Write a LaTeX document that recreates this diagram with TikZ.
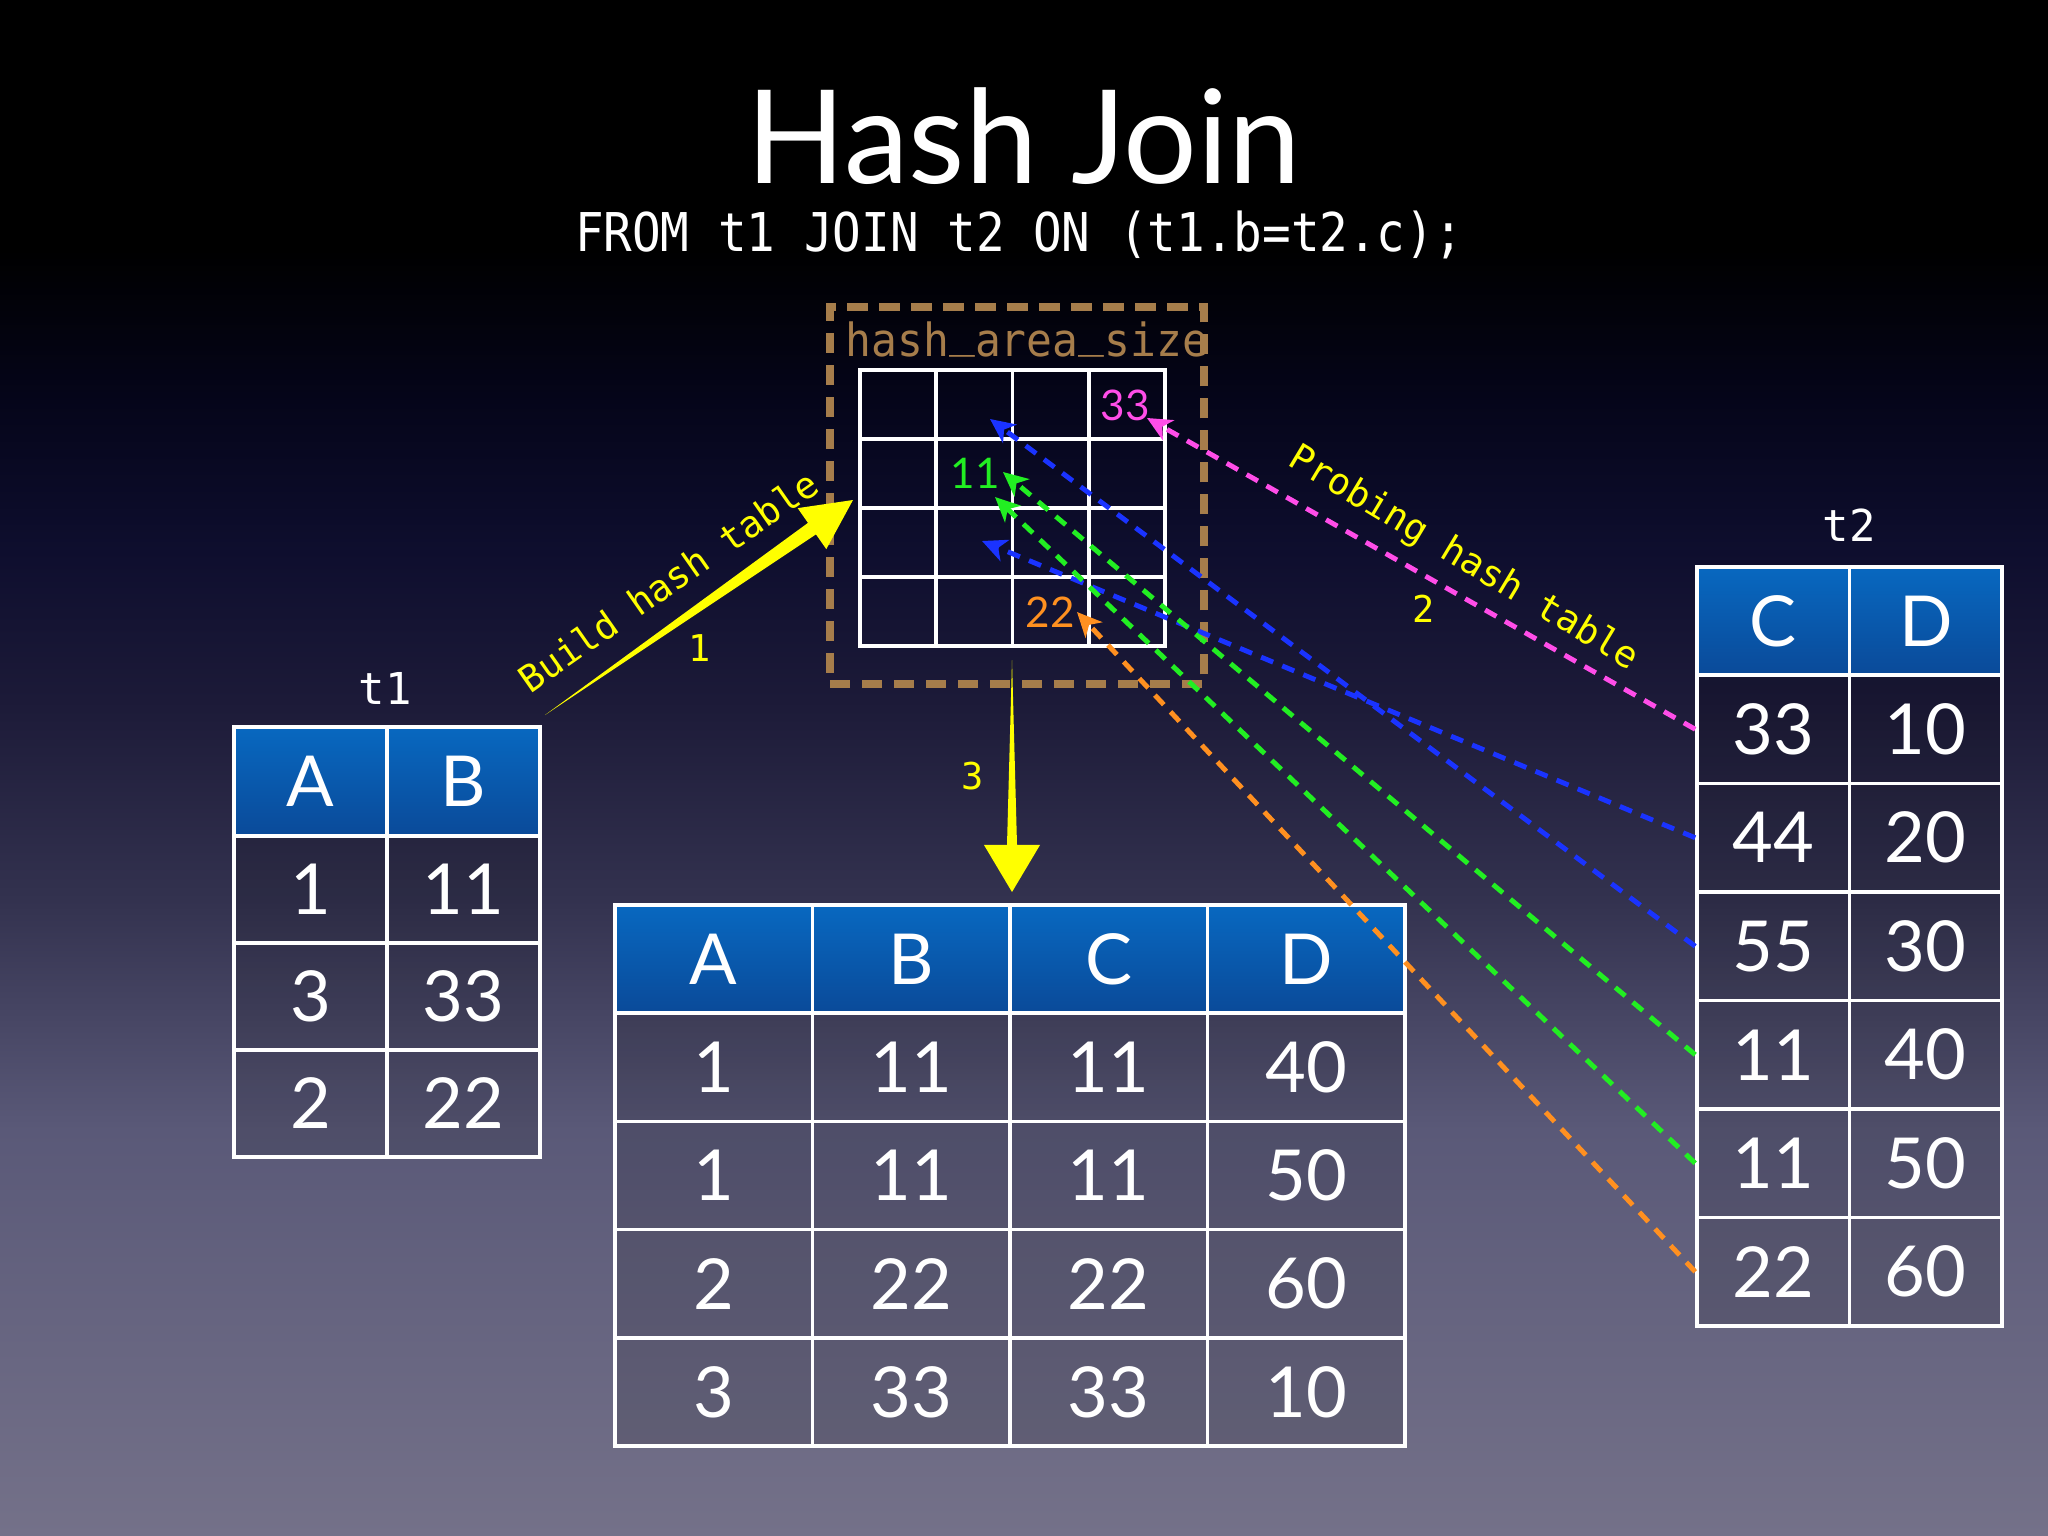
\documentclass[tikz,border=0pt]{standalone}
\usepackage{fontspec}
\setmainfont{Lato}
\newfontfamily\subfont[FakeStretch=0.89]{DejaVu Sans Mono}
\newfontfamily\codefont{DejaVu Sans Mono}
\newfontfamily\hfont[FakeStretch=0.94]{DejaVu Sans Mono}
\usetikzlibrary{arrows.meta,calc}
\newcommand\hashus{\raisebox{0.2em}{\_}}

\definecolor{bgA}{HTML}{05051A}
\definecolor{bgB}{HTML}{0E0E2E}
\definecolor{bgC}{HTML}{1C1A38}
\definecolor{bgD}{HTML}{33324F}
\definecolor{bgE}{HTML}{5A5978}
\definecolor{bgF}{HTML}{747189}
\definecolor{hdrtop}{HTML}{0868C0}
\definecolor{hdrbot}{HTML}{0A4A99}
\definecolor{hashbrown}{HTML}{A67D4B}
\definecolor{pmag}{HTML}{FF4DE8}
\definecolor{pblue}{HTML}{1A33FF}
\definecolor{pgreen}{HTML}{22EE22}
\definecolor{porange}{HTML}{FF9020}
\definecolor{ayellow}{HTML}{FFFF00}

\pgfdeclareverticalshading{slidebg}{100bp}{color(0bp)=(bgF); color(25bp)=(bgF); color(38.22bp)=(bgE); color(45.7bp)=(bgD); color(52.21bp)=(bgC); color(57.1bp)=(bgB); color(61.98bp)=(bgA); color(66.86bp)=(black); color(100bp)=(black)}

\tikzset{
  cellbase/.style={draw=white, line width=1pt, inner sep=0pt, text=white, font=\fontsize{20}{24}\selectfont},
  hdrcell/.style={cellbase, top color=hdrtop, bottom color=hdrbot},
  bodycell/.style={cellbase, fill=black, fill opacity=0.12, text opacity=1, draw opacity=1},
  gridcell/.style={draw=white, line width=1pt, inner sep=0pt, minimum width=0.7625cm, minimum height=0.69cm},
  probe/.style={line width=1.4pt, dash pattern=on 3.7pt off 2.8pt, -{Stealth[length=7pt,width=6.5pt,inset=2pt]}},
  lbl/.style={text=ayellow, font=\codefont\fontsize{10.5}{12}\selectfont, inner sep=0pt},
  hashnum/.style={font=\fontsize{12}{14}\selectfont, inner sep=0pt},
}

\begin{document}
\begin{tikzpicture}[x=0.01cm,y=-0.01cm]
\useasboundingbox (0,0) rectangle (2048,1536);
\shade[shading=slidebg] (0,0) rectangle (2048,1536);

% title
\node[anchor=base, text=white, font=\fontsize{37}{42}\selectfont, inner sep=0pt] (title) at (1024,183) {Hash Join};
\node[anchor=base, text=white, font=\subfont\fontsize{15.2}{18}\selectfont, inner sep=0pt] (subtitle) at (1019,251) {FROM t1 JOIN t2 ON (t1.b=t2.c);};

% t1
\node[text=white, font=\codefont\fontsize{12.5}{14}\selectfont] (t1lbl) at (385,688) {t1};
\foreach \c/\x/\h in {1/310.5/A, 2/463.5/B}
  \node[hdrcell, minimum width=1.53cm, minimum height=1.09cm] (t1-0-\c) at (\x,781.5) {\h};
\foreach \r/\y/\a/\b in {1/889.5/1/11, 2/996.5/3/33, 3/1103.5/2/22} {
  \node[bodycell, minimum width=1.53cm, minimum height=1.07cm] (t1-\r-1) at (310.5,\y) {\a};
  \node[bodycell, minimum width=1.53cm, minimum height=1.07cm] (t1-\r-2) at (463.5,\y) {\b};
}

% t2
\node[text=white, font=\codefont\fontsize{12.5}{14}\selectfont] (t2lbl) at (1849,525) {t2};
\foreach \c/\x/\h in {1/1773.25/C, 2/1925.75/D}
  \node[hdrcell, minimum width=1.525cm, minimum height=1.08cm] (t2-0-\c) at (\x,621) {\h};
\foreach \r/\y/\a/\b in {1/729.25/33/10, 2/837.75/44/20, 3/946.25/55/30, 4/1054.75/11/40, 5/1163.25/11/50, 6/1271.75/22/60} {
  \node[bodycell, minimum width=1.525cm, minimum height=1.085cm] (t2-\r-1) at (1773.25,\y) {\a};
  \node[bodycell, minimum width=1.525cm, minimum height=1.085cm] (t2-\r-2) at (1925.75,\y) {\b};
}

% result
\foreach \c/\x/\h in {1/713.75/A, 2/911.25/B, 3/1108.75/C, 4/1306.25/D}
  \node[hdrcell, minimum width=1.975cm, minimum height=1.08cm] (res-0-\c) at (\x,959) {\h};
\foreach \r/\y/\a/\b/\cc/\d in {1/1067.1/1/11/11/40, 2/1175.4/1/11/11/50, 3/1283.6/2/22/22/60, 4/1391.9/3/33/33/10} {
  \node[bodycell, minimum width=1.975cm, minimum height=1.0825cm] (res-\r-1) at (713.75,\y) {\a};
  \node[bodycell, minimum width=1.975cm, minimum height=1.0825cm] (res-\r-2) at (911.25,\y) {\b};
  \node[bodycell, minimum width=1.975cm, minimum height=1.0825cm] (res-\r-3) at (1108.75,\y) {\cc};
  \node[bodycell, minimum width=1.975cm, minimum height=1.0825cm] (res-\r-4) at (1306.25,\y) {\d};
}

% hash area
\node[draw=hashbrown, line width=2.3pt, dash pattern=on 5.7pt off 3.4pt, minimum width=3.74cm, minimum height=3.77cm, inner sep=0pt] (hashbox) at (1017,495.5) {};
\foreach \i in {1,...,4}
  \foreach \j in {1,...,4}
    \node[gridcell] (g-\i-\j) at ({860+76.25*(\j-0.5)},{370+69*(\i-0.5)}) {};
\node[anchor=base west, inner sep=0pt, text=hashbrown, font=\hfont\fontsize{13}{15}\selectfont] (hashlbl) at (845,356) {hash\hashus area\hashus size};
\node[hashnum, text=pmag] (h33) at (1125,405) {33};
\node[hashnum, text=pgreen] (h11) at (975,473) {11};
\node[hashnum, text=porange] (h22) at (1050,612) {22};

% build arrow (1)
\coordinate (btail) at (545,715);
\coordinate (btip) at (853,500);
\coordinate (bbase) at ($(btip)!0.5cm!(btail)$);
\fill[ayellow] (btail) -- ($(bbase)!0.07cm!90:(btip)$) -- ($(bbase)!0.25cm!90:(btip)$) -- (btip)
  -- ($(bbase)!0.25cm!-90:(btip)$) -- ($(bbase)!0.07cm!-90:(btip)$) -- cycle;
\node[lbl, rotate=35] (buildlbl) at (668,581) {Build hash table};
\node[lbl] (one) at (700,648) {1};

% result arrow (3)
\coordinate (dtail) at (1012,660);
\coordinate (dtip) at (1012,892);
\coordinate (dbase) at ($(dtip)!0.47cm!(dtail)$);
\fill[ayellow] (dtail) -- ($(dbase)!0.05cm!90:(dtip)$) -- ($(dbase)!0.28cm!90:(dtip)$) -- (dtip)
  -- ($(dbase)!0.28cm!-90:(dtip)$) -- ($(dbase)!0.05cm!-90:(dtip)$) -- cycle;
\node[lbl] (three) at (973,776) {3};

% probing (2)
\coordinate (tipM) at (1147,418);
\coordinate (tipB1) at (990,419);
\coordinate (tipG1) at (1003,472);
\coordinate (tipG2) at (995,497);
\coordinate (tipB2) at (982,541);
\coordinate (tipO) at (1077,612);
\draw[probe, pmag] (t2-1-1.west) -- (tipM);
\draw[probe, pblue] (t2-2-1.west) -- (tipB2);
\draw[probe, pblue] (t2-3-1.west) -- (tipB1);
\draw[probe, pgreen] (t2-4-1.west) -- (tipG1);
\draw[probe, pgreen] (t2-5-1.west) -- (tipG2);
\draw[probe, porange] (t2-6-1.west) -- (tipO);
\node[lbl, rotate=-31] (probelbl) at (1463,559) {Probing hash table};
\node[lbl] (two) at (1424,609) {2};
\end{tikzpicture}
\end{document}
